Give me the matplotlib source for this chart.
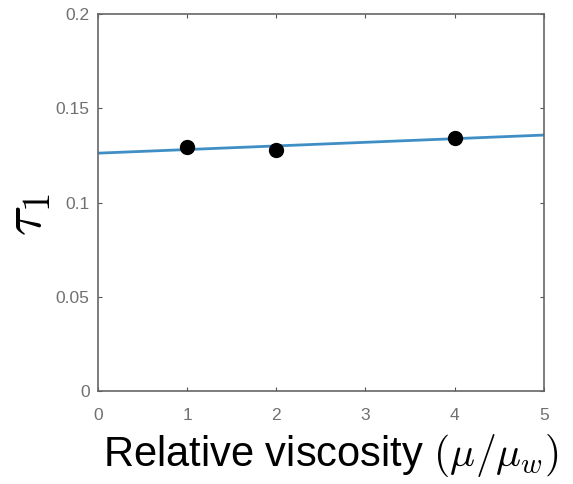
import numpy as np
import matplotlib
matplotlib.use('Agg')
import matplotlib.pyplot as plt

# data
visc = [1, 2, 4]
tau1 = [0.1294, 0.1278, 0.1345]
fit_x = [0, 5]
fit_y = [0.1262, 0.1358]
xticks = [0, 1, 2, 3, 4, 5]
yticks = [0, 0.05, 0.1, 0.15, 0.2]
ytick_labels = ['0', '0.05', '0.1', '0.15', '0.2']

plt.rcParams['font.family'] = ['Liberation Sans', 'DejaVu Sans']
plt.rcParams['mathtext.fontset'] = 'cm'

fig = plt.figure(figsize=(5.73, 4.84), dpi=100)
ax = fig.add_axes([0.171, 0.192, 0.778, 0.779])

ax.plot(fit_x, fit_y, color='#3f8fc6', lw=2, zorder=2)
ax.plot(visc, tau1, 'o', color='black', markersize=10, zorder=3)

ax.set_xlim(0, 5)
ax.set_ylim(0, 0.2)
ax.set_xticks(xticks)
ax.set_yticks(yticks)
ax.set_yticklabels(ytick_labels)
ax.tick_params(direction='in', length=3, width=0.8, colors='#555555',
               labelcolor='#707070', labelsize=12.5, top=True, right=True)
ax.tick_params(axis='x', pad=12)
ax.tick_params(axis='y', pad=6)
for s in ax.spines.values():
    s.set_color('#666666')
    s.set_linewidth(1.2)

ax.set_xlabel(r'Relative viscosity $(\mu/\mu_w)$', fontsize=30, va='top')
ax.xaxis.set_label_coords(0.522, -0.108)
ax.set_ylabel(r'$\tau_1$', fontsize=40, va='bottom')
ax.yaxis.set_label_coords(-0.1, 0.467)

fig.savefig('out.png', dpi=100)
